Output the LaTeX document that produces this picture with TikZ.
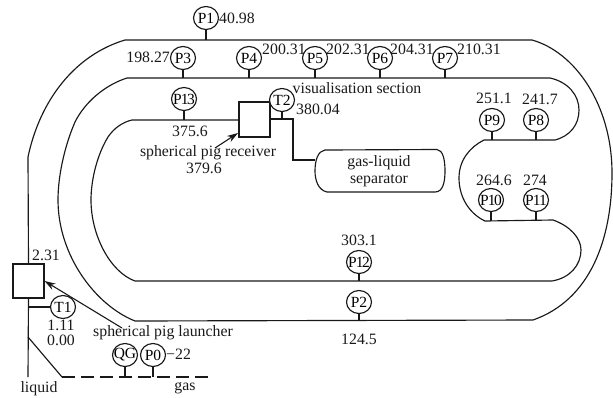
\documentclass[tikz,border=0pt]{standalone}
\usepackage{fontspec}
\setmainfont{Liberation Serif}
\definecolor{ink}{gray}{0.1}
\usetikzlibrary{shapes.geometric,arrows.meta}
\newcommand{\gtext}[1]{\makebox[0pt]{#1}}
\tikzset{
  pipe/.style={draw=ink,line width=1.15pt},
  gauge/.style={draw=ink,line width=1.15pt,ellipse,minimum width=25pt,minimum height=23pt,inner sep=0pt,fill=white,font=\fontsize{15.5}{17}\selectfont},
  boxn/.style={draw=ink,line width=1.15pt,rectangle,inner sep=0pt,fill=white},
  lab/.style={inner sep=0pt,text=ink,font=\fontsize{15.8}{17}\selectfont,align=center},
  pointer/.style={draw=ink,line width=1.1pt,-{Stealth[length=11pt,width=7pt]}},
}
\begin{document}
\begin{tikzpicture}[x=1pt,y=-1pt]
\useasboundingbox (0,0) rectangle (613,397);
% junctions
\coordinate (jP1) at (206,40);
\coordinate (jP3) at (183,78);
\coordinate (jP4) at (249,78);
\coordinate (jP5) at (315,78);
\coordinate (jP6) at (380,78);
\coordinate (jP7) at (445,78);
\coordinate (jP13) at (184,120);
\coordinate (jT2) at (282,119);
\coordinate (jP9) at (492,140);
\coordinate (jP8) at (536,140);
\coordinate (jP10) at (491,221);
\coordinate (jP11) at (536,221);
\coordinate (jP12) at (359,281);
\coordinate (jP2) at (359,321);
\coordinate (jT1) at (28,307);
\coordinate (jQG) at (125,377);
\coordinate (jP0) at (153,377);
\coordinate (dashL) at (62,377);
\coordinate (dashR) at (212,377);
\coordinate (liqB) at (28,377);
\coordinate (liqM) at (28,337);
\coordinate (elbow1) at (293,119);
\coordinate (elbow2) at (293,160);
\coordinate (launchTail) at (122,328);
\coordinate (recvTail) at (215,148);
\coordinate (recvTip) at (238,133);
% boxes
\node[boxn,minimum width=31pt,minimum height=34pt] (launcher) at (28.5,281) {};
\node[boxn,minimum width=31pt,minimum height=35pt] (receiver) at (254.5,119.5) {};
% pipes
\draw[pipe] (launcher.north) -- (28,157) .. controls (40,100) and (75,55) .. (125,40) -- (532,40)
  .. controls (575,52) and (612,105) .. (612,173) .. controls (612,240) and (590,300) .. (533,320)
  -- (135,321) .. controls (95,305) and (58,255) .. (58,200) .. controls (58,175) and (65,145) .. (75,122)
  .. controls (85,102) and (105,85) .. (127,78)
  -- (550,78) .. controls (568,82) and (579,95) .. (579,110) .. controls (579,125) and (570,136) .. (555,140)
  -- (484,140) .. controls (470,147) and (459,160) .. (459,178) .. controls (459,198) and (470,214) .. (485,221)
  -- (553,220) .. controls (570,226) and (581,238) .. (581,250) .. controls (581,265) and (570,278) .. (552,281)
  -- (135,281) .. controls (110,272) and (91,235) .. (91,200) .. controls (91,180) and (97,155) .. (108,137)
  .. controls (114,128) and (123,122) .. (132,120)
  -- (receiver.west |- 0,120);
\draw[pipe] (receiver.east |- elbow1) -- (elbow1) -- (elbow2) -- (315,160);
\draw[pipe] (325,150) -- (437,149.5) .. controls (443,150) and (445,160) .. (445,171) .. controls (445,182) and (443,192) .. (435,192) -- (327,192) .. controls (318,190) and (315,180) .. (315,171) .. controls (315,160) and (318,151) .. (325,150) -- cycle;
\draw[pipe] (launcher.south) -- (liqB);
\draw[pipe] (liqM) -- (dashL);
\draw[pipe,dash pattern=on 13pt off 6pt] (dashL) -- (dashR);
% gauges
\node[gauge] (P1) at (206,18) {\gtext{P1}};
\node[gauge] (P3) at (183,58) {\gtext{P3}};
\node[gauge] (P4) at (249,58) {\gtext{P4}};
\node[gauge] (P5) at (315,58) {\gtext{P5}};
\node[gauge] (P6) at (380,58) {\gtext{P6}};
\node[gauge] (P7) at (445,58) {\gtext{P7}};
\node[gauge] (P13) at (184,99) {\gtext{P\kern-1pt1\kern-1.5pt3}};
\node[gauge] (T2) at (282,100) {\gtext{T2}};
\node[gauge] (P9) at (492,120) {\gtext{P9}};
\node[gauge] (P8) at (536,120) {\gtext{P8}};
\node[gauge] (P10) at (491,200) {\gtext{P\kern-1pt1\kern-1.5pt0}};
\node[gauge] (P11) at (536,200) {\gtext{P\kern-1pt1\kern-1.5pt1}};
\node[gauge] (P12) at (359,262) {\gtext{P\kern-1pt1\kern-1.5pt2}};
\node[gauge] (P2) at (359,302) {\gtext{P2}};
\node[gauge] (T1) at (63,307) {\gtext{T1}};
\node[gauge] (QG) at (125,355) {\gtext{QG}};
\node[gauge] (P0) at (153,355) {\gtext{P0}};
\foreach \g in {P1,P3,P4,P5,P6,P7,P13,T2,P9,P8,P10,P11,P12,P2,QG,P0}{\draw[pipe] (\g) -- (j\g);}
\draw[pipe] (T1) -- (jT1);
% labels
\node[lab,anchor=west] (l1) at (219,18) {40.98};
\node[lab,anchor=east] (l3) at (170,57) {198.27};
\node[lab,anchor=west] (l4) at (262,49) {200.31};
\node[lab,anchor=west] (l5) at (326,49) {202.31};
\node[lab,anchor=west] (l6) at (390,49) {204.31};
\node[lab,anchor=west] (l7) at (457,49) {210.31};
\node[lab] (vis) at (357,88) {visualisation section};
\node[lab] (l13) at (190,131) {375.6};
\node[lab,anchor=west] (lT2) at (296,109) {380.04};
\node[lab] (recv) at (208,153) {spherical pig receiver};
\node[lab] (l379) at (204,168) {379.6};
\node[lab] (sept) at (379,171) {gas-liquid\\[-0.5pt]separator};
\node[lab] (l9) at (494,98) {251.1};
\node[lab] (l8) at (540,99) {241.7};
\node[lab] (l10) at (494,180) {264.6};
\node[lab] (l11) at (535,180) {274};
\node[lab] (l12) at (359,240) {303.1};
\node[lab] (l2) at (359,339) {124.5};
\node[lab] (l231) at (46,255) {2.31};
\node[lab] (l111) at (61,325) {1.11};
\node[lab] (l000) at (61,340) {0.00};
\node[lab] (launch) at (163,333) {spherical pig launcher};
\node[lab,anchor=west] (l22) at (166,354) {\textminus22};
\node[lab] (liq) at (39,389) {liquid};
\node[lab] (gas) at (185,388) {gas};
% arrows
\draw[pointer] (launchTail) -- (launcher.east);
\draw[pointer] (recvTail) -- (recvTip);
\end{tikzpicture}
\end{document}
